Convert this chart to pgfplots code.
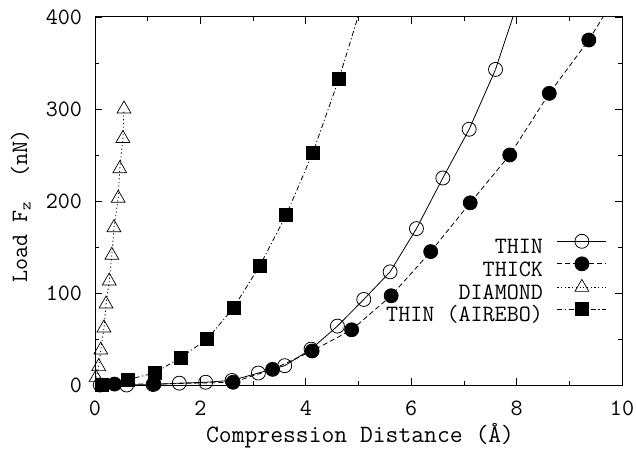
\documentclass[border=0pt]{standalone}
\usepackage{pgfplots}
\pgfplotsset{compat=1.18}
\usepackage{fontspec}

\pgfplotstableread{
x y
0.1 0
0.6 0
1.1 0.5
1.6 2
2.1 3
2.6 5
3.1 13
3.6 21
4.1 39
4.6 64
5.1 93
5.6 123
6.1 170
6.6 225
7.1 278
7.6 343
}\thin
\pgfplotstableread{
x y
0.37 1
1.12 1
2.62 3
3.37 17
4.12 37
4.87 60
5.62 97
6.37 145
7.12 198
7.87 250
8.62 317
9.37 375
}\thick
\pgfplotstableread{
x y
0.02 8
0.07 20
0.11 38
0.17 62
0.21 88
0.27 113
0.32 141
0.36 171
0.44 203
0.47 235
0.53 268
0.55 300
}\diamond
\pgfplotstableread{
x y
0.13 0
0.63 6
1.13 13
1.63 30
2.13 50
2.63 84
3.13 130
3.63 185
4.13 252
4.63 333
}\airebo

\tikzset{
 sthin/.style={black, line width=0.8pt, solid},
 sthick/.style={black, line width=0.8pt, dash pattern=on 5bp off 3bp},
 sdia/.style={black, line width=0.8pt, dash pattern=on 1.2bp off 2.5bp},
 sair/.style={black, line width=0.8pt, dash pattern=on 5bp off 2.5bp on 1.2bp off 2.5bp},
}

\begin{document}
\fontsize{23.5}{28}\selectfont\ttfamily
\begin{tikzpicture}
\begin{axis}[
 scale only axis, width=527bp, height=368bp,
 at={(0,0)}, anchor=south west,
 xmin=0, xmax=10, ymin=0, ymax=400,
 xtick={0,2,...,10}, ytick={0,100,...,400},
 minor x tick num=1, minor y tick num=1,
 tick align=inside,
 major tick length=7bp, minor tick length=4bp,
 every tick/.style={black, line width=0.8pt},
 axis line style={line width=1pt},
 /pgf/number format/assume math mode=true,
 yticklabel style={xshift=-5bp},
 xticklabel style={yshift=-8bp},
 xlabel={Compression Distance (Å)},
 ylabel={Load F\textsubscript{z}\ \ (nN)},
 xlabel style={at={(axis description cs:0.503,-0.1576)}, anchor=base, font=\fontsize{25}{28}\selectfont\ttfamily},
 ylabel style={at={(axis description cs:-0.129,0.486)}, anchor=base},
 legend cell align=right,
 legend plot pos=right,
 legend image code/.code={\draw[mark repeat=2,mark phase=2,#1] plot coordinates {(0bp,0.3em) (24.5bp,0.3em) (49bp,0.3em)};},
 legend style={draw=none, fill=none, at={(axis description cs:0.9715,0.41)}, anchor=north east, inner sep=0pt, column sep=14bp, row sep=0pt,
   nodes={inner sep=0pt, text height=14bp, text depth=3bp}},
]
\addplot[sthin, mark=o, mark size=7bp, mark options={solid, line width=0.8pt, fill=white}] table {\thin};
\addlegendentry{THIN}
\addplot[sthick, mark=*, mark size=7bp, mark options={solid}] table {\thick};
\addlegendentry{THICK}
\addplot[sdia, mark=triangle, mark size=8bp, mark options={solid, line width=0.7pt}] table {\diamond};
\addlegendentry{DIAMOND}
\addplot[sair, mark=square*, mark size=6.5bp, mark options={solid}] table {\airebo};
\addlegendentry{THIN (AIREBO)}
\addplot[sthin, forget plot] coordinates {(7.6,343) (7.93,400)};
\addplot[sthick, forget plot] coordinates {(9.37,375) (9.64,400)};
\addplot[sair, forget plot] coordinates {(4.63,333) (4.99,400)};
\end{axis}
\pgfresetboundingbox
\path[use as bounding box] (-95bp,-64bp) rectangle (541bp,385bp);
\end{tikzpicture}
\end{document}
